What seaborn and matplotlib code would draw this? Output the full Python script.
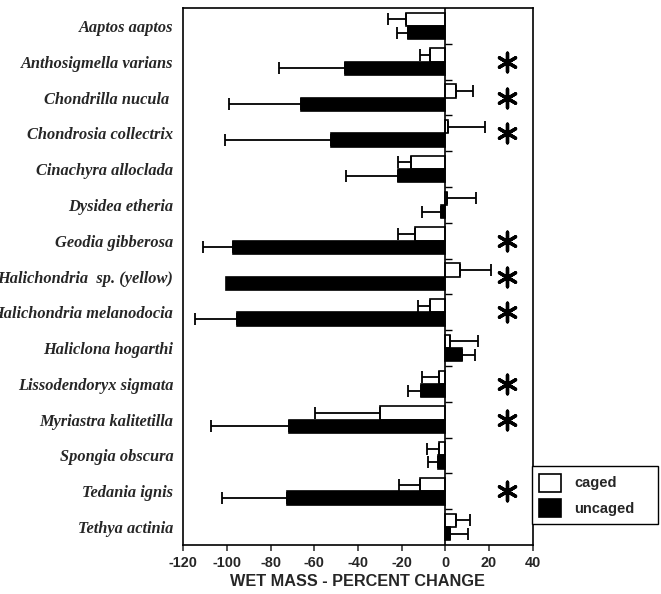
import numpy as np
import pandas as pd
import matplotlib
matplotlib.use("Agg")
import matplotlib.pyplot as plt
import matplotlib.markers as mmarkers
from matplotlib.patches import Patch
import seaborn as sns

species = ["Aaptos aaptos", "Anthosigmella varians", "Chondrilla nucula ", "Chondrosia collectrix",
           "Cinachyra alloclada", "Dysidea etheria", "Geodia gibberosa", "Halichondria  sp. (yellow)",
           "Halichondria melanodocia", "Haliclona hogarthi", "Lissodendoryx sigmata",
           "Myriastra kalitetilla", "Spongia obscura", "Tedania ignis", "Tethya actinia"]
caged = [-17.9, -7.2, 4.9, 1.0, -15.7, 0.8, -13.8, 6.6, -7.2, 2.0, -2.9, -29.8, -2.9, -11.5, 4.7]
caged_err = [8.5, 4.3, 7.8, 17.0, 5.9, 13.0, 7.9, 14.3, 5.5, 12.8, 7.8, 29.7, 5.5, 9.8, 6.8]
uncaged = [-17.3, -45.9, -66.0, -52.4, -21.6, -2.0, -97.1, -100.5, -95.4, 7.6, -11.2, -71.4, -3.2, -72.3, 2.3]
uncaged_err = [4.9, 30.2, 33.2, 48.4, 24.0, 8.5, 13.8, 0.0, 19.3, 6.0, 5.8, 35.9, 4.6, 30.0, 7.9]
significant = [0, 1, 1, 1, 0, 0, 1, 1, 1, 0, 1, 1, 0, 1, 0]
treatments = ["caged", "uncaged"]
x_ticks = [-120, -100, -80, -60, -40, -20, 0, 20, 40]

df = pd.DataFrame({
    "species": species * 2,
    "treatment": ["caged"] * len(species) + ["uncaged"] * len(species),
    "value": caged + uncaged,
    "err": caged_err + uncaged_err,
})

sns.set_style("white")
fig = plt.figure(figsize=(6.61, 5.94), dpi=100)
ax = fig.add_axes([0.277, 0.0825, 0.529, 0.904])

sns.barplot(data=df, y="species", x="value", hue="treatment", hue_order=treatments,
            order=species, orient="h", palette={"caged": "white", "uncaged": "black"},
            edgecolor="black", linewidth=1.2, width=0.74, errorbar=None, legend=False,
            saturation=1, ax=ax)

# error bars (one-sided, away from zero), positioned on the drawn bars
patches = [p for p in ax.patches][: 2 * len(species)]
for p, v, e in zip(patches, df["value"], df["err"]):
    yc = p.get_y() + p.get_height() / 2
    if e <= 0:
        continue
    xerr = [[e], [0]] if v < 0 else [[0], [e]]
    ax.errorbar([v], [yc], xerr=xerr, fmt="none", ecolor="black", elinewidth=1.3,
                capsize=4, capthick=1.3, zorder=1)

# zero line with small ticks between species
ax.axvline(0, color="black", lw=1.2, zorder=3)
ypos = np.arange(len(species))
ax.plot(np.zeros(len(species) - 1), ypos[:-1] + 0.5, linestyle="none",
        marker=mmarkers.TICKRIGHT, markersize=5, mew=1.0, color="black", zorder=3)

# significance asterisks
sig_y = [i for i, s in enumerate(significant) if s]
ax.scatter([28] * len(sig_y), sig_y, marker=(6, 2, 0), s=180, linewidths=2.4,
           color="black", zorder=4)

ax.set_xlim(-120, 40)
ax.set_ylim(len(species) - 0.5, -0.5)
ax.set_xticks(x_ticks)
ax.set_xticklabels([str(t) for t in x_ticks], fontfamily="Liberation Sans",
                   fontweight="bold", fontsize=10.4)
ax.set_yticks(ypos)
ax.set_yticklabels(species, fontfamily="Liberation Serif", fontweight="bold",
                   fontstyle="italic", fontsize=11.8)
ax.tick_params(axis="y", length=0, pad=7)
ax.tick_params(axis="x", length=4, width=1.1, direction="out", bottom=True, pad=4)
ax.set_xlabel("WET MASS - PERCENT CHANGE", fontfamily="Liberation Sans",
              fontweight="bold", fontsize=11.7, labelpad=3)
ax.set_ylabel("")
for s in ax.spines.values():
    s.set_visible(True)
    s.set_color("black")
    s.set_linewidth(1.2)

handles = [Patch(facecolor="white", edgecolor="black", linewidth=1.2, label="caged"),
           Patch(facecolor="black", edgecolor="black", linewidth=1.2, label="uncaged")]
leg = fig.legend(handles=handles, loc="lower left", bbox_to_anchor=(0.805, 0.118, 0.19, 0.103),
                 mode="expand", frameon=True, fancybox=False, edgecolor="black",
                 prop={"family": "Liberation Sans", "weight": "bold", "size": 10.5},
                 handlelength=1.5, handleheight=1.5, borderpad=0.5, labelspacing=0.5,
                 handletextpad=0.9, borderaxespad=0)
leg.get_frame().set_linewidth(1.0)
leg.get_frame().set_alpha(1)

fig.savefig("out.png", dpi=100)
